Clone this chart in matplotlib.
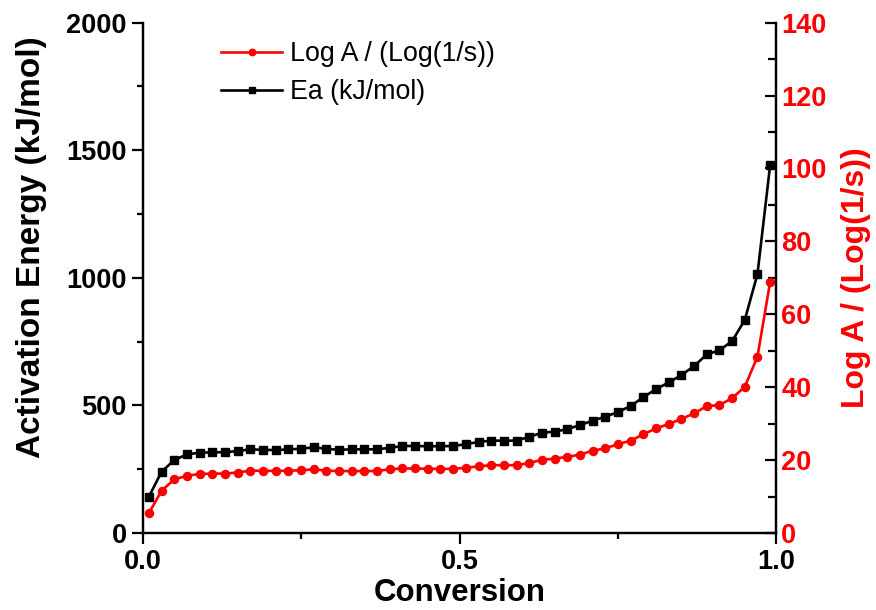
import matplotlib.pyplot as plt
from matplotlib.ticker import MultipleLocator

plt.rcParams['font.family'] = ['Liberation Sans', 'DejaVu Sans']

# conversion points (0.01 ... 0.99, step 0.02)
conversion = [0.01, 0.03, 0.05, 0.07, 0.09, 0.11, 0.13, 0.15, 0.17, 0.19,
              0.21, 0.23, 0.25, 0.27, 0.29, 0.31, 0.33, 0.35, 0.37, 0.39,
              0.41, 0.43, 0.45, 0.47, 0.49, 0.51, 0.53, 0.55, 0.57, 0.59,
              0.61, 0.63, 0.65, 0.67, 0.69, 0.71, 0.73, 0.75, 0.77, 0.79,
              0.81, 0.83, 0.85, 0.87, 0.89, 0.91, 0.93, 0.95, 0.97, 0.99]

ea = [142, 240, 286, 308, 315, 316, 317, 321, 328, 326,
      325, 328, 330, 336, 330, 326, 328, 328, 328, 334,
      341, 341, 340, 340, 341, 348, 357, 362, 362, 362,
      377, 393, 397, 407, 423, 440, 456, 474, 498, 532,
      564, 590, 619, 654, 700, 716, 752, 835, 1015, 1442]

log_a = [5.4, 11.6, 14.7, 15.7, 16.2, 16.3, 16.3, 16.6, 17.1, 17.1,
         17.0, 17.1, 17.2, 17.5, 17.1, 17.0, 17.0, 17.0, 17.0, 17.5,
         17.7, 17.7, 17.6, 17.6, 17.6, 17.9, 18.3, 18.6, 18.6, 18.6,
         19.2, 20.1, 20.4, 20.9, 21.5, 22.6, 23.2, 24.4, 25.3, 27.1,
         28.7, 29.9, 31.3, 32.8, 34.8, 35.1, 37.0, 40.1, 48.4, 68.9]

fig = plt.figure(figsize=(8.76, 6.10), dpi=100)
ax = fig.add_axes([0.1627, 0.1262, 0.7237, 0.8366])
ax2 = ax.twinx()

l_ea, = ax.plot(conversion, ea, color='black', marker='s', markersize=5.2,
                linewidth=1.9, label='Ea (kJ/mol)')
l_a, = ax2.plot(conversion, log_a, color='red', marker='o', markersize=5.8,
                linewidth=1.9, label='Log A / (Log(1/s))')

ax.set_xlim(0, 1)
ax.set_ylim(0, 2000)
ax2.set_ylim(0, 140)

ax.xaxis.set_major_locator(MultipleLocator(0.5))
ax.xaxis.set_minor_locator(MultipleLocator(0.25))
ax.yaxis.set_major_locator(MultipleLocator(500))
ax.yaxis.set_minor_locator(MultipleLocator(250))
ax2.yaxis.set_major_locator(MultipleLocator(20))
ax2.yaxis.set_minor_locator(MultipleLocator(10))
ax.xaxis.set_major_formatter(plt.FuncFormatter(lambda v, p: f'{v:.1f}'))

for a in (ax, ax2):
    a.spines['top'].set_visible(False)
    for s in a.spines.values():
        s.set_linewidth(1.6)

ax.tick_params(axis='both', which='major', direction='out', length=8, width=1.6,
               labelsize=19.5)
ax.tick_params(axis='both', which='minor', direction='out', length=4.5, width=1.6)
ax2.tick_params(axis='y', which='major', direction='in', length=8, width=1.6,
                labelsize=19.5, labelcolor='red')
ax2.tick_params(axis='y', which='minor', direction='in', length=6, width=1.6)

for lbl in ax.get_xticklabels() + ax.get_yticklabels() + ax2.get_yticklabels():
    lbl.set_fontweight('bold')

ax.set_xlabel('Conversion', fontsize=22.5, fontweight='bold', labelpad=2)
ax.set_ylabel('Activation Energy (kJ/mol)', fontsize=24, fontweight='bold')
ax.yaxis.set_label_coords(-0.151, 0.56)
ax2.set_ylabel('Log A / (Log(1/s))', fontsize=23, fontweight='bold', color='red',
               labelpad=10)

ax.legend(handles=[l_a, l_ea], loc='upper left', bbox_to_anchor=(0.098, 0.995),
          frameon=False, fontsize=19.3, handlelength=2.3, handletextpad=0.3,
          labelspacing=0.45, markerscale=0.8, borderaxespad=0.2)

fig.savefig('out.png', dpi=100)
